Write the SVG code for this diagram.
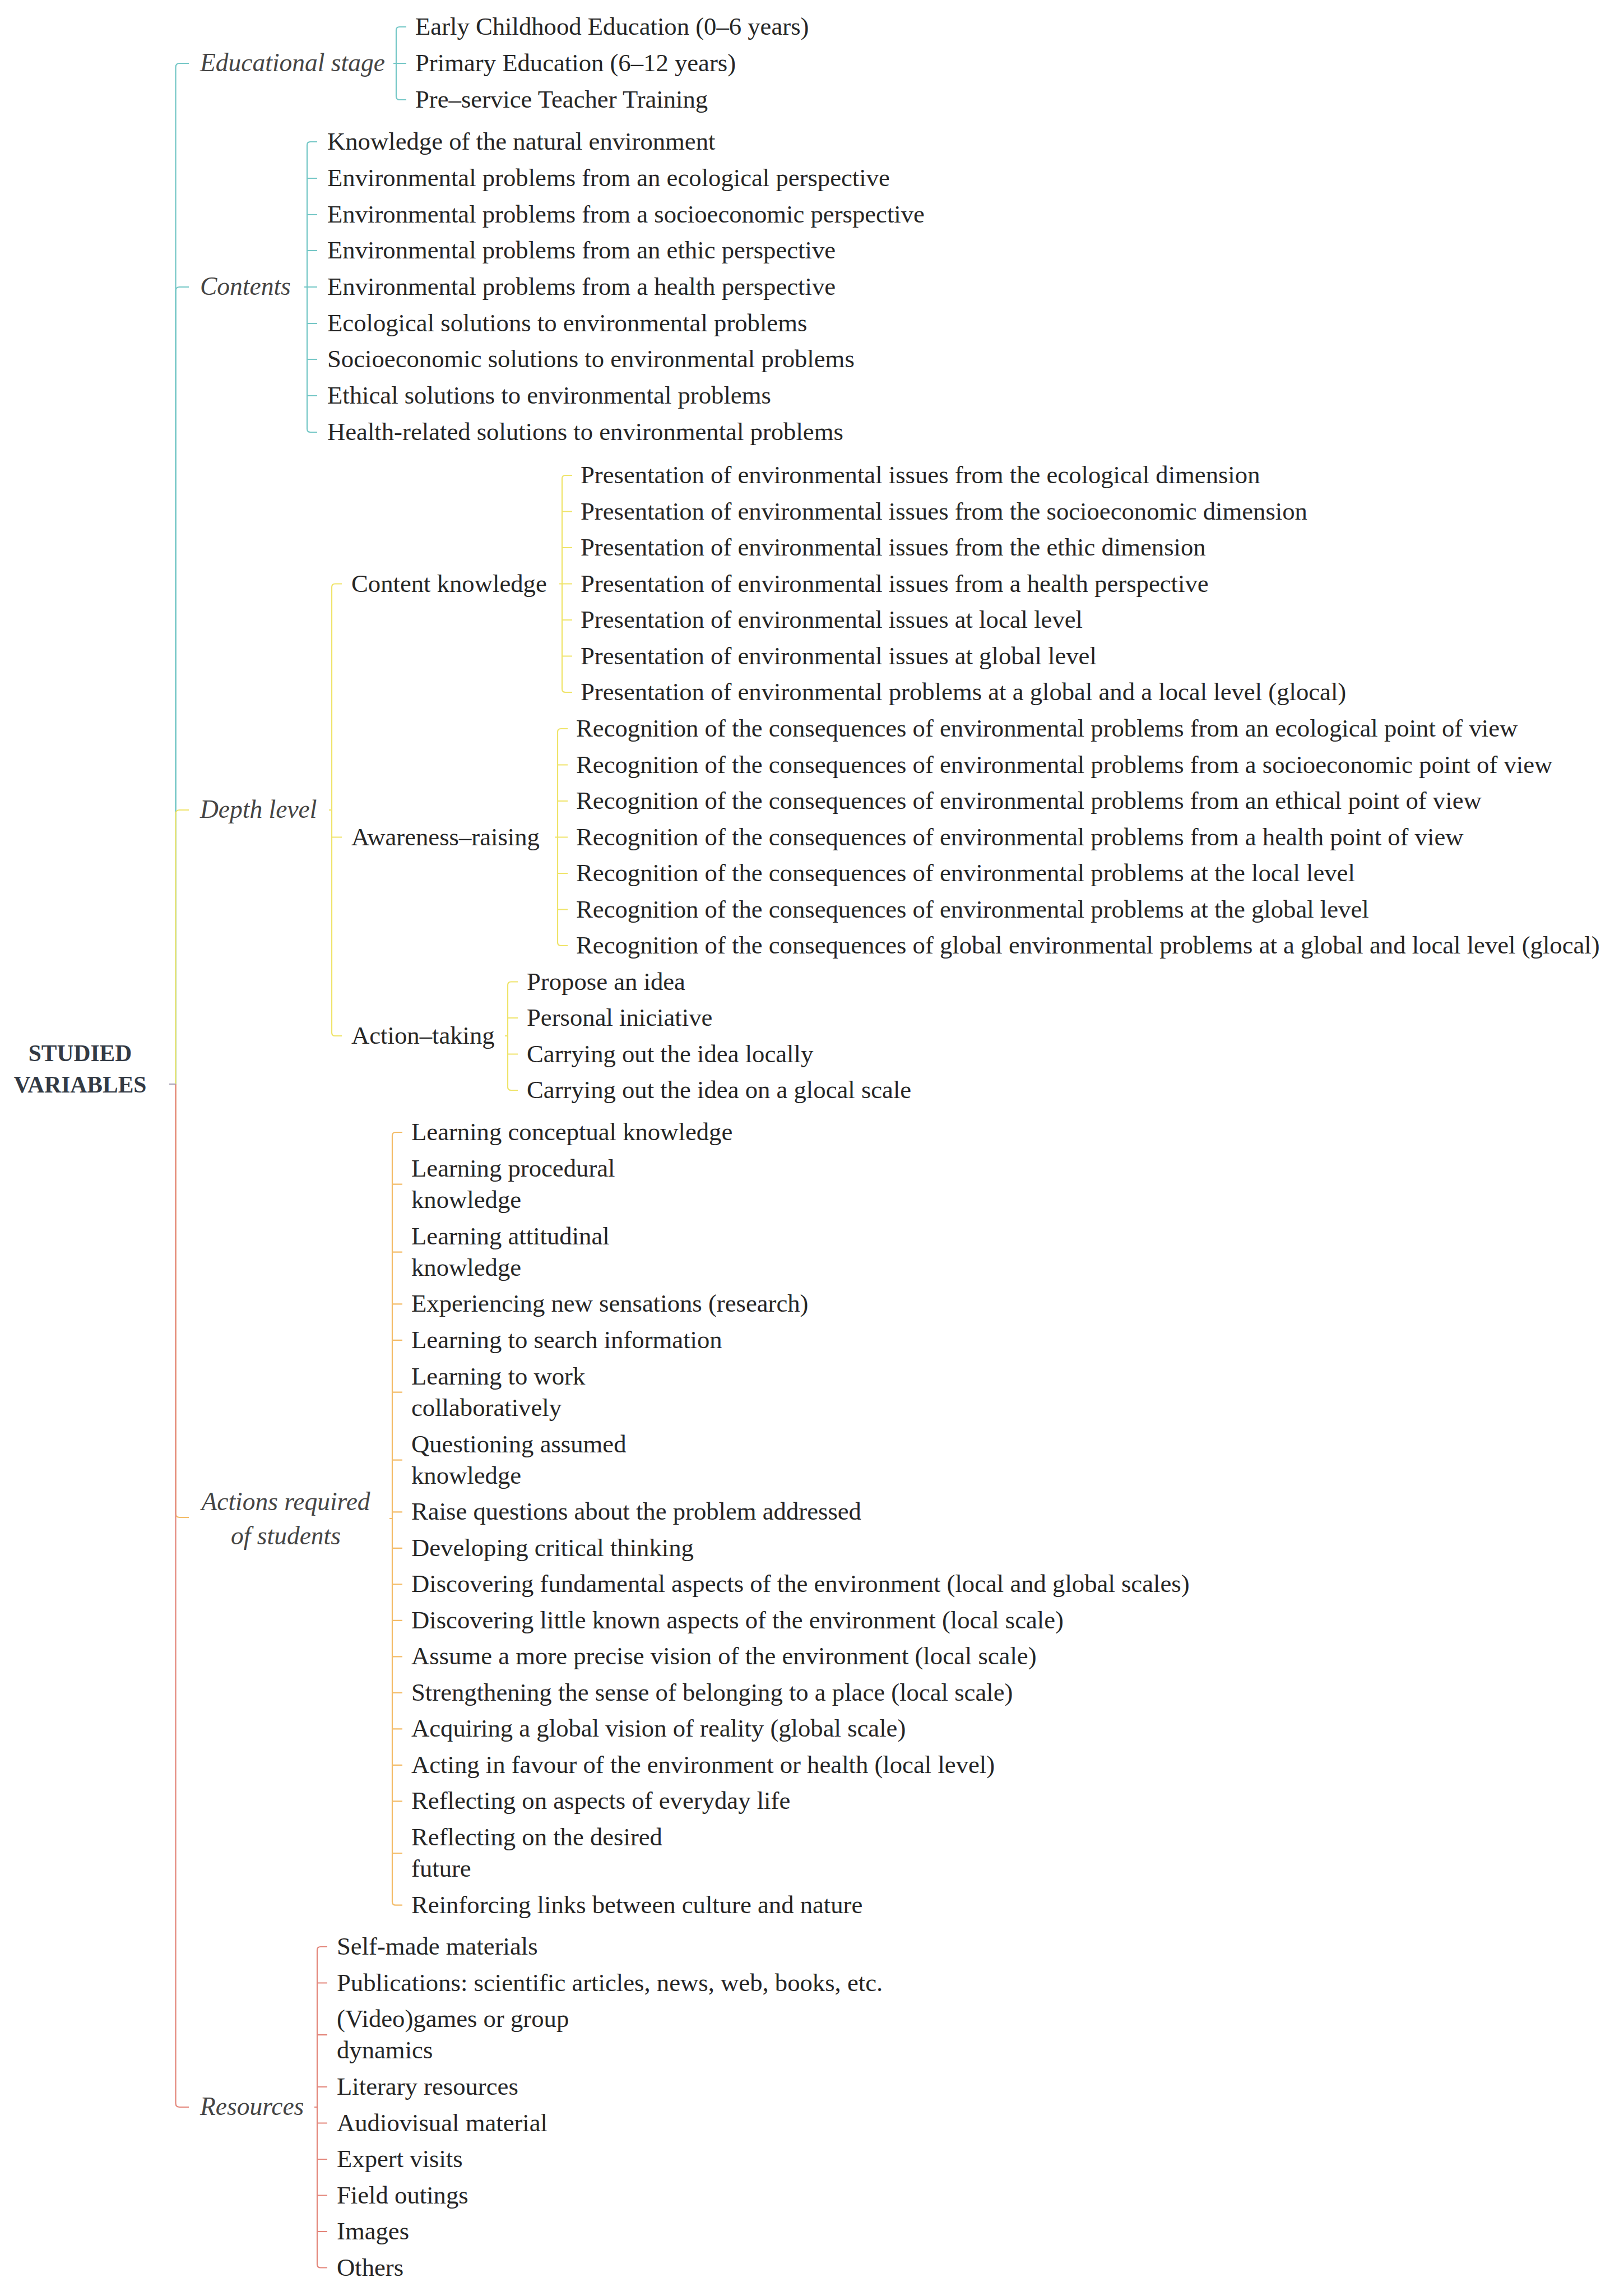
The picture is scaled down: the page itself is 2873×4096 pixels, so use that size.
<svg xmlns="http://www.w3.org/2000/svg" width="2873" height="4096" viewBox="0 0 2873 4096">
<style>
.t{font-family:"Liberation Serif","DejaVu Serif",serif;font-size:44.7px;fill:#262626}
.i{font-style:italic;font-size:45.5px;fill:#454545}
.root{font-weight:bold;font-size:41.5px;fill:#333a44;text-anchor:middle}
.mid{text-anchor:middle}
.c{fill:none;stroke-width:2.2}
.teal{stroke:#74c7c6}.yel{stroke:#efe46a}.org{stroke:#f3bc68}.red{stroke:#e3867b}.gry{stroke:#a9a3b6}
</style>
<rect width="2873" height="4096" fill="#ffffff"/>
<g id="connectors">
<path class="c teal" d="M313.5,1934 V120 Q313.5,113 320.5,113 H337"/>
<path class="c teal" d="M313.5,1934 V519 Q313.5,512 320.5,512 H337"/>
<path class="c yel" d="M313.5,1934 V1452 Q313.5,1445 320.5,1445 H337"/>
<path class="c org" d="M313.5,1934 V2700 Q313.5,2707 320.5,2707 H337"/>
<path class="c red" d="M313.5,1934 V3752 Q313.5,3759 320.5,3759 H337"/>
<path class="c gry" d="M302,1934 H313.5"/>
<path class="c teal" d="M725,48 H713 Q707,48 707,54 V172 Q707,178 713,178 H725 M707,113 H725 M702,113 H707"/>
<path class="c teal" d="M566,253 H554 Q548,253 548,259 V765 Q548,771 554,771 H566 M548,318 H566 M548,383 H566 M548,447 H566 M548,512 H566 M548,577 H566 M548,641 H566 M548,706 H566 M543,512 H548"/>
<path class="c yel" d="M610,1041.5 H598 Q592,1041.5 592,1047.5 V1842 Q592,1848 598,1848 H610 M592,1493.5 H610 M587,1445 H592"/>
<path class="c yel" d="M1021,848 H1009 Q1003,848 1003,854 V1229 Q1003,1235 1009,1235 H1021 M1003,912.5 H1021 M1003,977 H1021 M1003,1041.5 H1021 M1003,1106 H1021 M1003,1170.5 H1021 M998,1041.5 H1003"/>
<path class="c yel" d="M1013,1300 H1001 Q995,1300 995,1306 V1681 Q995,1687 1001,1687 H1013 M995,1364.5 H1013 M995,1429 H1013 M995,1493.5 H1013 M995,1558 H1013 M995,1622.5 H1013 M990,1493.5 H995"/>
<path class="c yel" d="M924,1751.5 H912 Q906,1751.5 906,1757.5 V1939 Q906,1945 912,1945 H924 M906,1816 H924 M906,1880.5 H924 M901,1848 H906"/>
<path class="c org" d="M718,2020 H706 Q700,2020 700,2026 V3392.7 Q700,3398.7 706,3398.7 H718 M700,2112.7 H718 M700,2233.7 H718 M700,2326.4 H718 M700,2390.9 H718 M700,2483.6 H718 M700,2604.6 H718 M700,2697.3 H718 M700,2761.8 H718 M700,2826.3 H718 M700,2890.8 H718 M700,2955.3 H718 M700,3019.8 H718 M700,3084.3 H718 M700,3148.8 H718 M700,3213.3 H718 M700,3306 H718 M695,2709 H700"/>
<path class="c red" d="M584,3473 H572 Q566,3473 566,3479 V4039.5 Q566,4045.5 572,4045.5 H584 M566,3537.5 H584 M566,3630.2 H584 M566,3723 H584 M566,3787.5 H584 M566,3852 H584 M566,3916.5 H584 M566,3981 H584 M561,3759 H566"/>
</g>
<g id="root"><text class="t root" x="143" y="1893">STUDIED</text><text class="t root" x="143" y="1949">VARIABLES</text></g>
<g id="educational-stage">
<text class="t i" x="357" y="127">Educational stage</text>
<text class="t" x="741" y="62">Early Childhood Education (0–6 years)</text>
<text class="t" x="741" y="127">Primary Education (6–12 years)</text>
<text class="t" x="741" y="192">Pre–service Teacher Training</text>
</g>
<g id="contents">
<text class="t i" x="357" y="526">Contents</text>
<text class="t" x="584" y="267">Knowledge of the natural environment</text>
<text class="t" x="584" y="332">Environmental problems from an ecological perspective</text>
<text class="t" x="584" y="397">Environmental problems from a socioeconomic perspective</text>
<text class="t" x="584" y="461">Environmental problems from an ethic perspective</text>
<text class="t" x="584" y="526">Environmental problems from a health perspective</text>
<text class="t" x="584" y="591">Ecological solutions to environmental problems</text>
<text class="t" x="584" y="655">Socioeconomic solutions to environmental problems</text>
<text class="t" x="584" y="720">Ethical solutions to environmental problems</text>
<text class="t" x="584" y="785">Health-related solutions to environmental problems</text>
</g>
<g id="depth-level">
<text class="t i" x="357" y="1459">Depth level</text>
</g>
<g id="content-knowledge">
<text class="t" x="627" y="1055.5">Content knowledge</text>
<text class="t" x="1036" y="862">Presentation of environmental issues from the ecological dimension</text>
<text class="t" x="1036" y="926.5">Presentation of environmental issues from the socioeconomic dimension</text>
<text class="t" x="1036" y="991">Presentation of environmental issues from the ethic dimension</text>
<text class="t" x="1036" y="1055.5">Presentation of environmental issues from a health perspective</text>
<text class="t" x="1036" y="1120">Presentation of environmental issues at local level</text>
<text class="t" x="1036" y="1184.5">Presentation of environmental issues at global level</text>
<text class="t" x="1036" y="1249">Presentation of environmental problems at a global and a local level (glocal)</text>
</g>
<g id="awareness-raising">
<text class="t" x="627" y="1507.5">Awareness–raising</text>
<text class="t" x="1028" y="1314">Recognition of the consequences of environmental problems from an ecological point of view</text>
<text class="t" x="1028" y="1378.5">Recognition of the consequences of environmental problems from a socioeconomic point of view</text>
<text class="t" x="1028" y="1443">Recognition of the consequences of environmental problems from an ethical point of view</text>
<text class="t" x="1028" y="1507.5">Recognition of the consequences of environmental problems from a health point of view</text>
<text class="t" x="1028" y="1572">Recognition of the consequences of environmental problems at the local level</text>
<text class="t" x="1028" y="1636.5">Recognition of the consequences of environmental problems at the global level</text>
<text class="t" x="1028" y="1701">Recognition of the consequences of global environmental problems at a global and local level (glocal)</text>
</g>
<g id="action-taking">
<text class="t" x="627" y="1862">Action–taking</text>
<text class="t" x="940" y="1765.5">Propose an idea</text>
<text class="t" x="940" y="1830">Personal iniciative</text>
<text class="t" x="940" y="1894.5">Carrying out the idea locally</text>
<text class="t" x="940" y="1959">Carrying out the idea on a glocal scale</text>
</g>
<g id="actions-required">
<text class="t i mid" x="510" y="2694">Actions required</text>
<text class="t i mid" x="510" y="2755">of students</text>
<text class="t" x="734" y="2034">Learning conceptual knowledge</text>
<text class="t" x="734" y="2099">Learning procedural</text>
<text class="t" x="734" y="2155">knowledge</text>
<text class="t" x="734" y="2220">Learning attitudinal</text>
<text class="t" x="734" y="2276">knowledge</text>
<text class="t" x="734" y="2340.4">Experiencing new sensations (research)</text>
<text class="t" x="734" y="2405">Learning to search information</text>
<text class="t" x="734" y="2470">Learning to work</text>
<text class="t" x="734" y="2526">collaboratively</text>
<text class="t" x="734" y="2591">Questioning assumed</text>
<text class="t" x="734" y="2647">knowledge</text>
<text class="t" x="734" y="2711">Raise questions about the problem addressed</text>
<text class="t" x="734" y="2776">Developing critical thinking</text>
<text class="t" x="734" y="2840">Discovering fundamental aspects of the environment (local and global scales)</text>
<text class="t" x="734" y="2905">Discovering little known aspects of the environment (local scale)</text>
<text class="t" x="734" y="2969">Assume a more precise vision of the environment (local scale)</text>
<text class="t" x="734" y="3034">Strengthening the sense of belonging to a place (local scale)</text>
<text class="t" x="734" y="3098">Acquiring a global vision of reality (global scale)</text>
<text class="t" x="734" y="3163">Acting in favour of the environment or health (local level)</text>
<text class="t" x="734" y="3227">Reflecting on aspects of everyday life</text>
<text class="t" x="734" y="3292">Reflecting on the desired</text>
<text class="t" x="734" y="3348">future</text>
<text class="t" x="734" y="3413">Reinforcing links between culture and nature</text>
</g>
<g id="resources">
<text class="t i" x="357" y="3773">Resources</text>
<text class="t" x="601" y="3487">Self-made materials</text>
<text class="t" x="601" y="3551.5">Publications: scientific articles, news, web, books, etc.</text>
<text class="t" x="601" y="3616">(Video)games or group</text>
<text class="t" x="601" y="3672">dynamics</text>
<text class="t" x="601" y="3737">Literary resources</text>
<text class="t" x="601" y="3801.5">Audiovisual material</text>
<text class="t" x="601" y="3866">Expert visits</text>
<text class="t" x="601" y="3930.5">Field outings</text>
<text class="t" x="601" y="3995">Images</text>
<text class="t" x="601" y="4059.5">Others</text>
</g>
</svg>
